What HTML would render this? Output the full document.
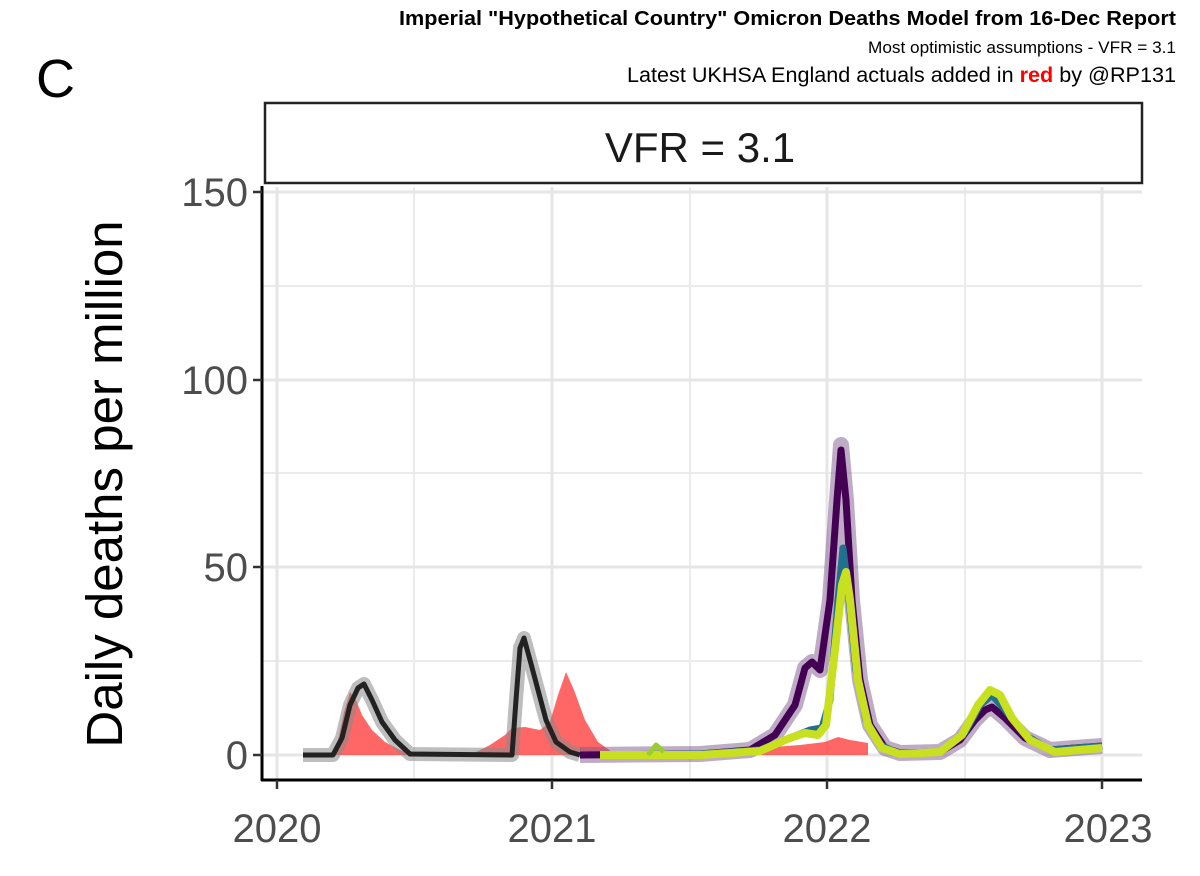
<!DOCTYPE html>
<html><head><meta charset="utf-8"><style>
html,body{margin:0;padding:0;background:#fff;}
body{width:1200px;height:871px;overflow:hidden;font-family:"Liberation Sans",sans-serif;}
</style></head><body>
<svg width="1200" height="871" xmlns="http://www.w3.org/2000/svg" font-family="Liberation Sans, sans-serif">
<rect width="1200" height="871" fill="#fff"/>
<text x="1176" y="25" text-anchor="end" font-size="20.5" font-weight="bold" textLength="777" lengthAdjust="spacingAndGlyphs">Imperial "Hypothetical Country" Omicron Deaths Model from 16-Dec Report</text>
<text x="1176" y="53" text-anchor="end" font-size="16.5" textLength="308" lengthAdjust="spacingAndGlyphs">Most optimistic assumptions - VFR = 3.1</text>
<text x="1176" y="82" text-anchor="end" font-size="21" textLength="549" lengthAdjust="spacingAndGlyphs">Latest UKHSA England actuals added in <tspan fill="#ff0000" font-weight="bold">red</tspan> by @RP131</text>
<text x="36" y="97" font-size="54">C</text>
<rect x="265" y="103" width="877" height="80" fill="#fff" stroke="#222" stroke-width="2.5"/>
<text x="700" y="162" text-anchor="middle" font-size="42" fill="#1a1a1a">VFR = 3.1</text>
<g stroke="#ebebeb" stroke-width="2">
<line x1="262" x2="1142" y1="286" y2="286"/><line x1="262" x2="1142" y1="473" y2="473"/><line x1="262" x2="1142" y1="661" y2="661"/>
<line x1="414" x2="414" y1="187" y2="780"/><line x1="690" x2="690" y1="187" y2="780"/><line x1="965" x2="965" y1="187" y2="780"/>
</g>
<g stroke="#e6e6e6" stroke-width="3">
<line x1="262" x2="1142" y1="192" y2="192"/><line x1="262" x2="1142" y1="380" y2="380"/><line x1="262" x2="1142" y1="567" y2="567"/><line x1="262" x2="1142" y1="755" y2="755"/>
<line x1="277" x2="277" y1="187" y2="780"/><line x1="552" x2="552" y1="187" y2="780"/><line x1="827" x2="827" y1="187" y2="780"/><line x1="1102" x2="1102" y1="187" y2="780"/>
</g>
<path d="M330,755 L338,740 L344,712 L350,692 L356,700 L362,715 L372,730 L385,742 L400,750 L415,755 Z" fill="#ff4040" opacity="0.8"/>
<path d="M470,755 L490,745 L505,735 L512,728 L525,727 L540,730 L550,722 L558,695 L566,672 L574,690 L585,720 L598,742 L612,752 L640,755 L700,752 L760,748 L800,745 L825,742 L838,737 L850,740 L868,743 L868,755 Z" fill="#ff4040" opacity="0.8"/>
<g fill="none" stroke-linejoin="round">
<path d="M303,755 L333,755 L342,738 L350,705 L358,688 L364,684 L372,700 L382,722 L395,740 L410,754 L512,755 L516,700 L520,648 L524,638 L530,660 L538,690 L546,720 L556,742 L570,752 L580,755" stroke="#888" stroke-width="14" opacity="0.55"/>
<path d="M303,755 L333,755 L342,738 L350,705 L358,688 L364,684 L372,700 L382,722 L395,740 L410,754 L512,755 L516,700 L520,648 L524,638 L530,660 L538,690 L546,720 L556,742 L570,752 L580,755" stroke="#222" stroke-width="5"/>
<path d="M580,755 L700,754 L750,750 L775,735 L795,705 L805,668 L812,662 L820,670 L830,600 L837,500 L841,445 L846,500 L852,600 L860,680 L870,725 L885,748 L900,753 L940,752 L960,740 L975,720 L985,710 L992,707 L1005,718 L1025,738 L1050,750 L1075,748 L1102,746" stroke="#7e5a8e" stroke-width="16" opacity="0.5"/>
<path d="M580,755 L700,754 L750,750 L775,735 L795,705 L805,668 L812,662 L820,670 L830,600 L837,500 L841,450 L846,500 L852,600 L860,680 L870,725 L885,748 L900,753 L940,752 L960,740 L975,720 L985,710 L992,707 L1005,718 L1025,738 L1050,750 L1075,748 L1102,746" stroke="#440154" stroke-width="7"/>
<path d="M620,755 L700,754 L760,750 L790,738 L810,730 L822,728 L830,700 L838,600 L843,548 L848,590 L856,670 L866,720 L880,745 L900,754 L940,752 L965,732 L980,705 L992,695 L1005,710 L1025,735 L1050,750 L1102,746" stroke="#21718e" stroke-width="7"/>
<path d="M600,755 L700,755 L760,751 L790,738 L805,733 L818,735 L826,725 L835,650 L842,585 L846,572 L850,600 L858,680 L868,725 L882,748 L900,754 L940,752 L962,735 L978,705 L990,690 L1000,695 L1012,718 L1030,740 L1055,752 L1102,748" stroke="#c8e020" stroke-width="8"/>
<path d="M648,755 L656,745 L664,752" stroke="#9acd32" stroke-width="5"/>
</g>
<line x1="262" y1="186" x2="262" y2="781" stroke="#000" stroke-width="3"/>
<line x1="261" y1="780" x2="1142" y2="780" stroke="#000" stroke-width="3"/>
<g stroke="#333" stroke-width="2.5">
<line x1="253" x2="262" y1="192" y2="192"/><line x1="253" x2="262" y1="380" y2="380"/><line x1="253" x2="262" y1="567" y2="567"/><line x1="253" x2="262" y1="755" y2="755"/>
<line x1="277" x2="277" y1="780" y2="789"/><line x1="552" x2="552" y1="780" y2="789"/><line x1="827" x2="827" y1="780" y2="789"/><line x1="1102" x2="1102" y1="780" y2="789"/>
</g>
<g font-size="40" fill="#4d4d4d" text-anchor="end">
<text x="248" y="206">150</text><text x="248" y="394">100</text><text x="248" y="581">50</text><text x="248" y="769">0</text>
</g>
<g font-size="40" fill="#4d4d4d" text-anchor="middle">
<text x="277" y="842">2020</text><text x="552" y="842">2021</text><text x="827" y="842">2022</text><text x="1108" y="842">2023</text>
</g>
<text transform="translate(122,484) rotate(-90)" text-anchor="middle" font-size="51" fill="#000">Daily deaths per million</text>
</svg>
</body></html>
